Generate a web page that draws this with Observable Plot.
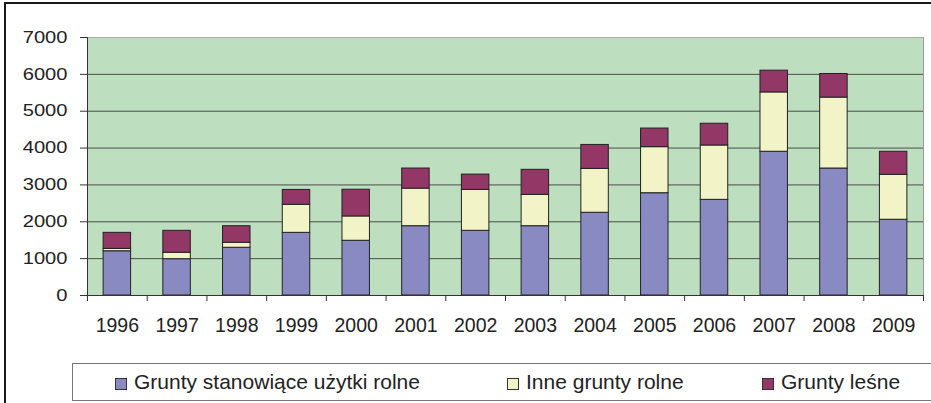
<!DOCTYPE html>
<html><head><meta charset="utf-8">
<script src="https://cdn.jsdelivr.net/npm/d3@7"></script>
<script src="https://cdn.jsdelivr.net/npm/@observablehq/plot@0.6"></script>
<style>
html,body{margin:0;padding:0;background:#fff;}
#wrap{position:relative;width:931px;height:403px;overflow:hidden;font-family:"Liberation Sans",Arial,sans-serif;}
#frame{position:absolute;left:4px;top:2px;width:1000px;height:500px;border-left:2px solid #1a1a1a;border-top:2px solid #1a1a1a;}
#chart{position:absolute;left:0;top:0;}
#legend{position:absolute;left:72px;top:363px;width:900px;height:36px;border:1px solid #777;background:#fff;}
.item{position:absolute;top:0;height:36px;display:flex;align-items:center;font-size:21px;color:#222;white-space:nowrap;}
.sw{width:10px;height:10px;border:1px solid #333;margin-right:7px;margin-top:3px;}
</style></head>
<body>
<div id="wrap"><div id="frame"></div><div id="chart"></div><div id="legend"></div></div>
<script>
const years = [1996, 1997, 1998, 1999, 2000, 2001, 2002, 2003, 2004, 2005, 2006, 2007, 2008, 2009];
const uzytkiRolne = [1200, 985, 1295, 1700, 1485, 1880, 1755, 1880, 2245, 2775, 2595, 3900, 3445, 2055];
const inneRolne   = [65, 175, 135, 760, 660, 1020, 1110, 850, 1190, 1250, 1475, 1610, 1925, 1220];
const lesne       = [435, 595, 450, 405, 725, 545, 415, 680, 650, 505, 590, 590, 640, 625];
const seriesNames = ["Grunty stanowiące użytki rolne", "Inne grunty rolne", "Grunty leśne"];
const seriesColors = ["#8a8ac3", "#f2f3c6", "#923766"];
const yTicks = [0, 1000, 2000, 3000, 4000, 5000, 6000, 7000];

const seriesValues = [uzytkiRolne, inneRolne, lesne];
const rows = [];
years.forEach((yr, i) => {
  let base = 0;
  seriesValues.forEach((arr, s) => {
    rows.push({i, year: yr, series: seriesNames[s], y1: base, y2: base + arr[i]});
    base += arr[i];
  });
});

const chart = Plot.plot({
  width: 931, height: 345,
  marginLeft: 87, marginRight: 8, marginTop: 37, marginBottom: 50,
  style: {fontFamily: "'Liberation Sans', Arial, sans-serif", color: "#222", background: "transparent", overflow: "visible"},
  x: {type: "linear", domain: [0, years.length], label: null},
  y: {domain: [0, 7000], label: null},
  color: {domain: seriesNames, range: seriesColors},
  marks: [
    Plot.frame({fill: "#bddfbf", stroke: null}),
    Plot.ruleY([7000], {stroke: "#aaa"}),
    Plot.ruleX([years.length], {stroke: "#999"}),
    Plot.ruleY(yTicks.filter(d => d > 0 && d < 7000), {stroke: "#4d4d4d"}),
    Plot.rect(rows, {x1: d => d.i + 0.27, x2: d => d.i + 0.73, y1: "y1", y2: "y2", fill: "series", stroke: "#222", strokeWidth: 1}),
    Plot.ruleX([0], {stroke: "#333"}),
    Plot.ruleY([0], {stroke: "#333"}),
    Plot.axisY({ticks: yTicks, tickSize: 7, tickPadding: 13, fontSize: 16.5, tickFormat: d => String(d), stroke: "#333", label: null}),
    Plot.axisX({ticks: d3.range(0, years.length + 1), tickSize: 6, tickFormat: () => "", stroke: "#333", label: null}),
    Plot.axisX({ticks: years.map((y, i) => i + 0.5), tickSize: 0, tickPadding: 23, fontSize: 19.5, tickFormat: v => String(years[Math.floor(v)]), label: null})
  ]
});
document.getElementById("chart").appendChild(chart);

// horizontal stretch of the y tick labels, as in the reference
chart.querySelectorAll('g[aria-label="y-axis tick label"] text').forEach(t => {
  const tr = t.getAttribute("transform");
  if (tr) t.setAttribute("transform", tr + " scale(1.22,1)");
  else {
    const x = +t.getAttribute("x") || 0, y = +t.getAttribute("y") || 0;
    t.removeAttribute("x"); t.removeAttribute("y");
    t.setAttribute("transform", `translate(${x},${y}) scale(1.22,1)`);
  }
});

const legendPos = [42, 434, 689];
const legend = document.getElementById("legend");
seriesNames.forEach((name, s) => {
  const it = document.createElement("div");
  it.className = "item";
  it.style.left = legendPos[s] + "px";
  const sw = document.createElement("div");
  sw.className = "sw";
  sw.style.background = seriesColors[s];
  const tx = document.createElement("span");
  tx.textContent = name;
  it.appendChild(sw); it.appendChild(tx);
  legend.appendChild(it);
});
</script>
</body></html>
